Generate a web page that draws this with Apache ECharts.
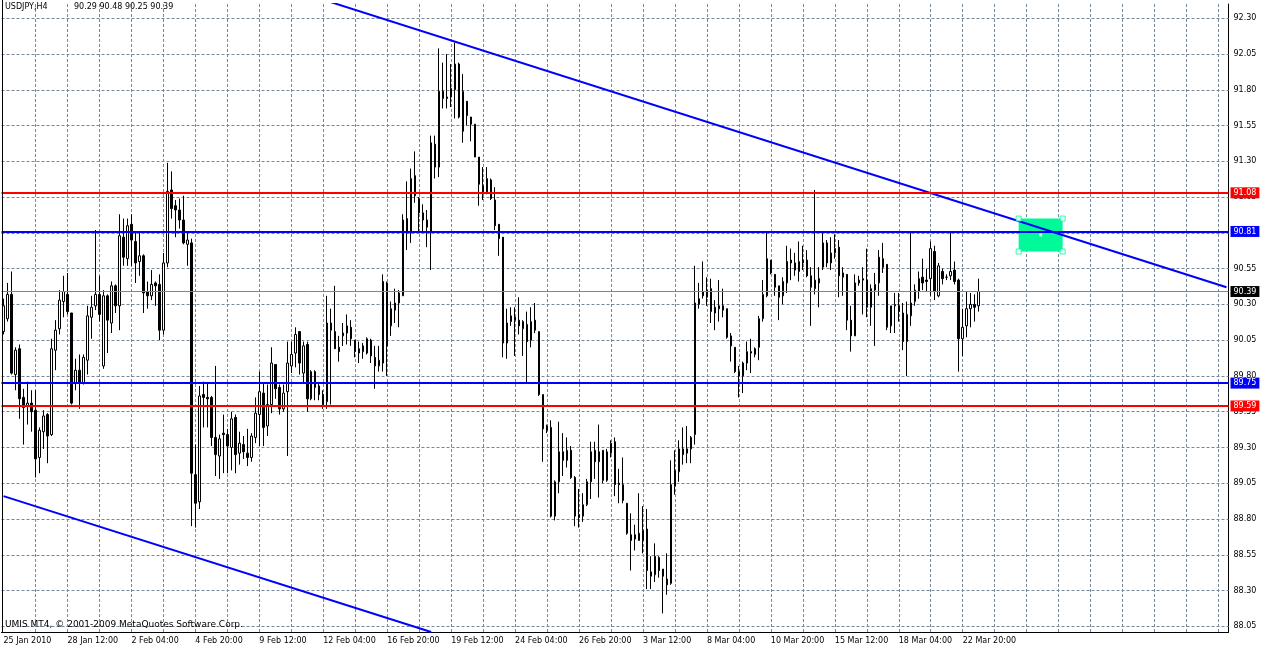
<!DOCTYPE html>
<html><head><meta charset="utf-8">
<script src="https://cdn.jsdelivr.net/npm/echarts@6/dist/echarts.min.js"></script>
<style>html,body{margin:0;padding:0;background:#fff}#c{width:1266px;height:652px}</style>
</head><body><div id="c"></div>
<script>
// ---- data ----
const tickLabels = ['25 Jan 2010','28 Jan 12:00','2 Feb 04:00','4 Feb 20:00','9 Feb 12:00','12 Feb 04:00','16 Feb 20:00','19 Feb 12:00','24 Feb 04:00','26 Feb 20:00','3 Mar 12:00','8 Mar 04:00','10 Mar 20:00','15 Mar 12:00','18 Mar 04:00','22 Mar 20:00'];
const barsPerLabel = 16;
const totalSlots = 307;
const open = [
90.11,90.20,90.37,89.81,89.99,89.65,89.59,89.61,89.56,89.23,
89.41,89.53,89.39,89.98,90.13,90.32,90.37,90.24,89.75,89.84,
89.75,89.91,90.21,90.29,90.37,89.87,90.36,90.17,90.43,90.29,
90.77,90.62,90.86,90.74,90.60,90.64,90.39,90.36,90.45,90.44,
90.12,90.59,91.10,90.99,90.96,90.89,90.72,90.73,89.11,88.92,
89.67,89.65,89.65,89.37,89.24,89.40,89.39,89.30,89.51,89.26,
89.32,89.26,89.23,89.37,89.53,89.68,89.45,89.60,89.88,89.72,
89.57,89.69,89.87,89.96,90.11,89.82,90.02,89.64,89.83,89.73,
89.67,89.62,90.17,90.11,90.00,90.08,90.10,90.14,90.05,89.96,
89.97,89.96,90.05,89.93,89.87,89.89,90.45,90.15,90.26,90.31,
90.36,90.90,90.80,91.20,91.04,90.94,90.89,90.81,91.42,91.26,
91.79,91.75,91.75,91.80,91.98,91.51,91.72,91.61,91.56,91.33,
91.13,91.08,91.17,91.03,90.86,90.77,90.03,90.18,90.21,90.19,
90.13,90.16,90.05,90.19,90.11,89.67,89.42,89.44,88.82,89.06,
89.27,89.21,89.28,89.09,88.83,88.82,88.90,89.06,89.28,89.20,
89.28,89.07,89.26,89.34,89.05,89.04,88.91,88.69,88.66,88.70,
88.65,88.73,88.43,88.41,88.53,88.45,88.38,88.35,89.03,89.13,
89.29,89.26,89.29,89.39,90.30,90.39,90.35,90.41,90.24,90.29,
90.29,90.27,90.08,90.00,89.83,89.80,89.89,89.97,89.95,90.00,
90.20,90.36,90.61,90.51,90.43,90.36,90.45,90.61,90.59,90.53,
90.61,90.61,90.50,90.41,90.48,90.56,90.73,90.59,90.66,90.70,
90.49,90.51,90.19,90.08,90.45,90.47,90.47,90.28,90.40,90.45,
90.62,90.58,90.15,90.29,90.29,90.24,90.04,90.22,90.32,90.39,
90.49,90.47,90.48,90.67,90.36,90.53,90.49,90.50,90.54,90.47,
90.06,90.15,90.27,90.30,90.29];
const high = [
90.34,90.45,90.53,90.00,90.02,89.71,89.76,89.70,89.70,89.44,
89.56,89.54,90.06,90.19,90.40,90.50,90.52,90.24,89.92,89.95,
89.95,90.29,90.36,90.82,90.50,90.40,90.37,90.46,90.44,90.93,
90.90,90.90,90.93,90.80,90.80,90.65,90.46,90.54,90.46,90.51,
90.66,91.29,91.23,91.03,91.04,91.06,90.80,90.76,89.32,89.73,
89.76,89.75,89.66,89.87,89.39,89.53,89.43,89.55,89.53,89.41,
89.38,89.43,89.40,89.65,89.83,89.75,89.74,90.00,89.88,89.74,
89.74,90.04,90.04,90.14,90.11,90.04,90.04,89.84,89.84,89.75,
89.70,90.36,90.27,90.43,90.08,90.17,90.23,90.19,90.05,90.04,
90.03,90.07,90.06,90.01,90.01,90.51,90.46,90.32,90.41,90.40,
90.93,91.16,91.25,91.37,91.05,91.00,90.96,91.48,91.48,92.09,
91.99,92.05,91.98,92.13,91.99,91.91,91.72,91.61,91.56,91.33,
91.26,91.26,91.18,91.12,90.86,90.77,90.27,90.28,90.28,90.35,
90.19,90.25,90.28,90.31,90.11,89.67,89.46,89.49,89.07,89.48,
89.40,89.37,89.31,89.10,89.01,88.98,89.08,89.34,89.34,89.46,
89.28,89.29,89.35,89.37,89.15,89.23,88.91,88.84,88.76,88.98,
88.89,88.87,88.54,88.63,88.54,88.45,88.56,89.21,89.28,89.35,
89.44,89.45,89.38,90.57,90.45,90.60,90.49,90.48,90.33,90.47,
90.41,90.27,90.10,90.00,89.87,89.90,90.04,90.06,90.00,90.22,
90.47,90.81,90.61,90.51,90.43,90.49,90.71,90.69,90.66,90.74,
90.71,90.68,90.56,91.10,90.56,90.80,90.75,90.77,90.79,90.75,
90.56,90.51,90.29,90.51,90.50,90.56,90.69,90.44,90.52,90.68,
90.73,90.58,90.29,90.38,90.38,90.31,90.32,90.81,90.44,90.53,
90.62,90.55,90.74,90.71,90.59,90.55,90.51,90.80,90.60,90.48,
90.27,90.39,90.38,90.37,90.48];
const low = [
90.09,90.18,89.81,89.70,89.50,89.32,89.46,89.41,89.09,89.12,
89.29,89.19,89.38,89.84,90.09,90.21,90.23,89.60,89.70,89.57,
89.74,89.81,90.06,90.26,90.18,89.85,89.96,90.10,90.24,90.12,
90.57,90.57,90.57,90.45,90.50,90.24,90.27,90.33,90.29,90.05,
90.09,90.56,90.90,90.77,90.83,90.72,90.57,88.75,88.74,88.87,
89.44,89.44,89.31,89.10,89.08,89.12,89.12,89.14,89.12,89.18,
89.22,89.17,89.20,89.33,89.31,89.31,89.38,89.54,89.64,89.53,
89.55,89.24,89.82,89.86,89.81,89.75,89.55,89.63,89.63,89.63,
89.57,89.57,89.60,89.99,89.90,90.01,90.02,90.01,89.93,89.89,
89.92,89.95,89.89,89.71,89.83,89.83,89.80,90.08,90.17,90.14,
90.36,90.68,90.73,91.01,90.80,90.80,90.70,90.54,91.18,91.19,
91.67,91.67,91.68,91.60,91.60,91.43,91.55,91.44,91.33,90.99,
91.03,91.07,91.03,90.82,90.64,89.93,89.92,90.15,89.94,90.09,
89.94,89.75,90.00,90.10,89.66,89.20,89.40,88.81,88.79,88.98,
89.10,89.16,89.08,88.75,88.74,88.78,88.89,88.94,89.08,88.95,
89.05,89.06,89.23,88.96,88.91,88.91,88.69,88.44,88.58,88.65,
88.56,88.31,88.31,88.36,88.39,88.14,88.27,88.34,88.97,89.06,
89.18,89.19,89.19,89.32,90.27,90.34,90.29,90.17,90.12,90.18,
90.21,90.06,89.90,89.82,89.65,89.68,89.84,89.82,89.93,89.91,
90.18,90.35,90.51,90.36,90.19,90.30,90.38,90.47,90.50,90.46,
90.54,90.49,90.15,90.37,90.28,90.54,90.56,90.54,90.62,90.35,
90.36,90.12,89.97,90.08,90.43,90.23,90.21,90.15,90.01,90.36,
90.52,90.12,90.10,90.10,90.18,89.98,89.80,90.15,90.29,90.34,
90.40,90.39,90.36,90.33,90.35,90.44,90.47,90.47,90.44,89.83,
89.94,90.07,90.14,90.18,90.25];
const close = [
90.29,90.37,89.82,89.98,89.64,89.58,89.61,89.55,89.22,89.42,
89.52,89.38,89.99,90.12,90.33,90.39,90.25,89.61,89.84,89.75,
89.93,90.22,90.28,90.37,90.23,90.36,90.19,90.43,90.29,90.78,
90.63,90.85,90.75,90.59,90.64,90.38,90.36,90.44,90.43,90.12,
90.59,91.09,90.97,90.96,90.89,90.73,90.75,89.12,88.91,89.66,
89.65,89.64,89.37,89.25,89.36,89.39,89.31,89.50,89.25,89.33,
89.27,89.23,89.38,89.54,89.69,89.44,89.60,89.89,89.71,89.57,
89.68,89.89,89.95,90.09,89.89,90.01,89.64,89.83,89.72,89.67,
89.60,90.17,90.12,89.99,89.97,90.10,90.15,90.06,89.97,89.99,
90.01,90.06,89.94,89.87,89.91,90.46,90.01,90.27,90.31,90.38,
90.89,90.80,91.18,91.06,90.94,90.89,90.84,91.43,91.26,91.79,
91.74,91.74,91.81,91.98,91.61,91.79,91.62,91.56,91.33,91.14,
91.08,91.18,91.04,90.85,90.76,90.03,90.17,90.22,90.19,90.15,
90.18,90.04,90.18,90.12,89.67,89.43,89.45,88.82,89.06,89.27,
89.21,89.28,89.09,88.82,88.81,88.90,89.06,89.27,89.20,89.27,
89.07,89.27,89.33,89.04,89.04,88.93,88.70,88.65,88.69,88.65,
88.72,88.44,88.40,88.54,88.44,88.40,88.34,89.04,89.14,89.29,
89.25,89.29,89.37,90.31,90.34,90.36,90.40,90.25,90.28,90.27,
90.26,90.07,90.01,89.83,89.80,89.89,89.97,89.96,89.99,90.20,
90.37,90.62,90.52,90.42,90.35,90.46,90.60,90.59,90.54,90.60,
90.59,90.50,90.42,90.47,90.45,90.73,90.59,90.66,90.69,90.50,
90.52,90.19,90.08,90.45,90.47,90.48,90.28,90.41,90.44,90.63,
90.56,90.14,90.29,90.30,90.25,90.04,90.23,90.31,90.40,90.48,
90.45,90.46,90.69,90.39,90.57,90.48,90.49,90.53,90.46,90.06,
90.14,90.27,90.30,90.28,90.39];
const priceTicks = [88.05,88.30,88.55,88.80,89.05,89.30,89.55,89.80,90.05,90.30,90.55,90.80,91.05,91.30,91.55,91.80,92.05,92.30];
const redLevels = [91.08, 89.59];
const blueLevels = [90.81, 89.75];
const lastPrice = 90.39;
const upperTrend = [[80, 92.43], [306, 90.42]];
const lowerTrend = [[0, 88.96], [107, 88.01]];
const zoneBox = [[254, 90.90], [265, 90.67]];
const zoneCenter = [259, 90.785];
const headerSymbol = 'USDJPY,H4';
const headerPrices = '90.29 90.48 90.25 90.39';
const footerText = 'UMIS MT4, \u00a9 2001-2009 MetaQuotes Software Corp.';

// ---- build ----
const FONT = 'DejaVu Sans';
const GRIDC = '#778899';
const cats = [];
for (let i = 0; i < totalSlots; i++) cats.push(String(i));
const candles = open.map((o, i) => [o, close[i], low[i], high[i]]);
const vLines = [];
for (let i = 8; i < totalSlots; i += 8) vLines.push({xAxis: i, label: {show: false}});
const hLines = priceTicks.map(p => ({yAxis: p}));

function levelLine(p, color, width, bg) {
  return {
    yAxis: p,
    lineStyle: {color: color, width: width, type: 'solid'},
    label: {show: true, position: 'end', distance: 2, formatter: p.toFixed(2),
      color: '#fff', backgroundColor: bg, padding: [1, 3, 1, 3], lineHeight: 9,
      fontFamily: FONT, fontSize: 8}
  };
}

const chart = echarts.init(document.getElementById('c'), null, {renderer: 'canvas'});
chart.setOption({
  animation: false,
  backgroundColor: '#ffffff',
  grid: {left: 1.5, right: 37.5, top: 4, bottom: 20, containLabel: false},
  xAxis: {
    type: 'category', data: cats, boundaryGap: true,
    axisLine: {show: true, lineStyle: {color: '#000', width: 1}},
    axisTick: {show: false},
    splitLine: {show: false},
    axisLabel: {
      show: true, interval: 0, align: 'left', margin: 5,
      color: '#000', fontFamily: FONT, fontSize: 8,
      formatter: (v, idx) => (idx % barsPerLabel === 0 && idx / barsPerLabel < tickLabels.length) ? tickLabels[idx / barsPerLabel] : ''
    }
  },
  yAxis: {
    type: 'value', position: 'right', min: 88.01, max: 92.40, scale: true,
    axisLine: {show: true, lineStyle: {color: '#000', width: 1}},
    axisTick: {show: false}, axisLabel: {show: false}, splitLine: {show: false}
  },
  graphic: [
    {type: 'text', left: 5, top: 3, z: 50, style: {text: headerSymbol, fill: '#000', font: '8px "DejaVu Sans"'}},
    {type: 'text', left: 74, top: 3, z: 50, style: {text: headerPrices, fill: '#000', font: '8px "DejaVu Sans"'}},
    {type: 'text', left: 5, top: 620, z: 50, style: {text: footerText, fill: '#000', font: '9px "DejaVu Sans"'}},
    {type: 'line', z: 50, shape: {x1: 2.5, y1: 0, x2: 2.5, y2: 632}, style: {stroke: '#000', lineWidth: 1}}
  ],
  series: [
    { // grid
      type: 'line', data: [], z: 1, silent: true,
      markLine: {
        silent: true, symbol: ['none', 'none'], z: 1, animation: false,
        lineStyle: {color: GRIDC, width: 1, type: [3, 2]},
        label: {show: true, position: 'end', distance: 5, color: '#000', fontFamily: FONT, fontSize: 8,
          formatter: p => (p.data && p.data.yAxis != null) ? Number(p.data.yAxis).toFixed(2) : ''},
        data: hLines.concat(vLines)
      }
    },
    { // zone box
      type: 'line', data: [], z: 2, silent: true,
      markArea: {silent: true, z: 2, itemStyle: {color: '#00fa9a', opacity: 1},
        data: [[{coord: zoneBox[0]}, {coord: zoneBox[1]}]]}
    },
    {
      type: 'candlestick', data: candles, z: 3, barWidth: 2, clip: false,
      itemStyle: {color: '#ffffff', color0: '#000000', borderColor: '#000000', borderColor0: '#000000', borderWidth: 1}
    },
    { // levels
      type: 'line', data: [], z: 4, silent: true,
      markLine: {
        silent: true, symbol: ['none', 'none'], z: 6, animation: false,
        data: [levelLine(lastPrice, GRIDC, 1, '#000')]
          .concat(redLevels.map(p => levelLine(p, '#ff0000', 2, '#ff0000')))
          .concat(blueLevels.map(p => levelLine(p, '#0000ff', 2, '#0000ff')))
      }
    },
    {type: 'line', data: upperTrend, z: 5, symbol: 'none', silent: true, clip: true,
      lineStyle: {color: '#0000ff', width: 2}},
    {type: 'line', data: lowerTrend, z: 5, symbol: 'none', silent: true, clip: false,
      lineStyle: {color: '#0000ff', width: 2}},
    {type: 'scatter', z: 7, silent: true, symbol: 'rect', symbolSize: 5,
      itemStyle: {color: '#ffffff', borderColor: '#00fa9a', borderWidth: 1},
      data: [zoneBox[0], [zoneBox[1][0], zoneBox[0][1]], [zoneBox[0][0], zoneBox[1][1]], zoneBox[1]]},
    {type: 'scatter', z: 7, silent: true, symbol: 'rect', symbolSize: 3, symbolOffset: [2, 0],
      itemStyle: {color: '#ffffff'}, data: [zoneCenter]}
  ]
});
</script></body></html>
